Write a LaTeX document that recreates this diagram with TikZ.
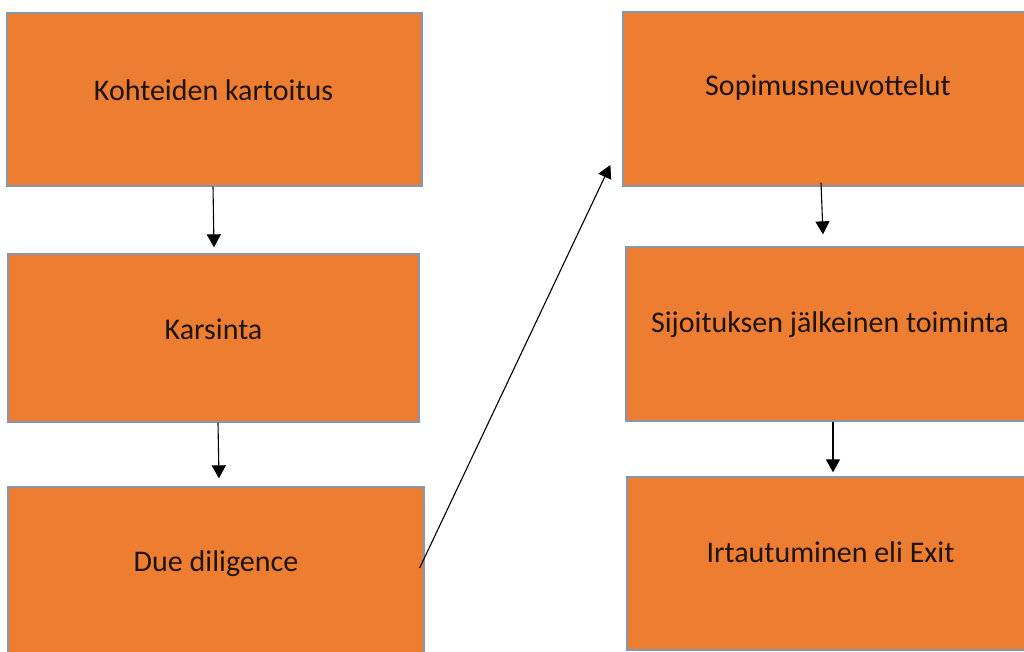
\documentclass[tikz,border=0pt]{standalone}
\usepackage{fontspec}
\setmainfont{Carlito}
\usetikzlibrary{arrows.meta}
\definecolor{boxfill}{RGB}{237,125,49}
\definecolor{boxline}{RGB}{132,151,176}
\definecolor{txt}{RGB}{30,20,10}
\tikzset{
  box/.style={draw=boxline, line width=1.3pt, fill=boxfill, inner sep=0pt},
  lbl/.style={text=txt, font=\fontsize{30}{36}\selectfont, inner sep=0pt},
  conn/.style={draw=black, line width=1.1pt, -{Triangle[width=14pt,length=13pt]}}
}
\begin{document}
\begin{tikzpicture}[x=1pt,y=-1pt]
\useasboundingbox (0,0) rectangle (1024,652);
\clip (0,0) rectangle (1024,652);
\fill[white] (0,0) rectangle (1024,652);
\node[box, minimum width=415pt, minimum height=173pt] (b1) at (214.5,99.5) {};
\node[box, minimum width=411pt, minimum height=168pt] (b2) at (213.5,338) {};
\node[box, minimum width=416pt, minimum height=173pt] (b3) at (216,573.5) {};
\node[box, minimum width=407pt, minimum height=174pt] (b4) at (826.5,99) {};
\node[box, minimum width=404pt, minimum height=174pt] (b5) at (828,334) {};
\node[box, minimum width=403pt, minimum height=173pt] (b6) at (828.5,563.5) {};
\node[lbl] (t1) at ([yshift=9.5pt,xshift=-1pt]b1.center) {Kohteiden kartoitus};
\node[lbl] (t2) at ([yshift=9pt]b2.center) {Karsinta};
\node[lbl] (t3) at ([yshift=10pt]b3.center) {Due diligence};
\node[lbl] (t4) at ([yshift=11pt,xshift=1.5pt]b4.center) {Sopimusneuvottelut};
\node[lbl] (t5) at ([yshift=9pt,xshift=2pt]b5.center) {Sijoituksen jälkeinen toiminta};
\node[lbl] (t6) at ([yshift=11.5pt,xshift=2pt]b6.center) {Irtautuminen eli Exit};
\draw[conn] ([xshift=-1.5pt]b1.south) -- ([xshift=0.5pt,yshift=6pt]b2.north);
\draw[conn] ([xshift=4.5pt]b2.south) -- ([xshift=3pt,yshift=8pt]b3.north);
\draw[conn] ([xshift=-5pt,yshift=5.5pt]b3.east) -- ([xshift=-12pt,yshift=-66pt]b4.west);
\draw[conn] ([xshift=-5.5pt,yshift=4pt]b4.south) -- ([xshift=-5pt,yshift=12pt]b5.north);
\draw[conn] ([xshift=5pt]b5.south) -- ([xshift=4.5pt,yshift=4pt]b6.north);
\end{tikzpicture}
\end{document}
